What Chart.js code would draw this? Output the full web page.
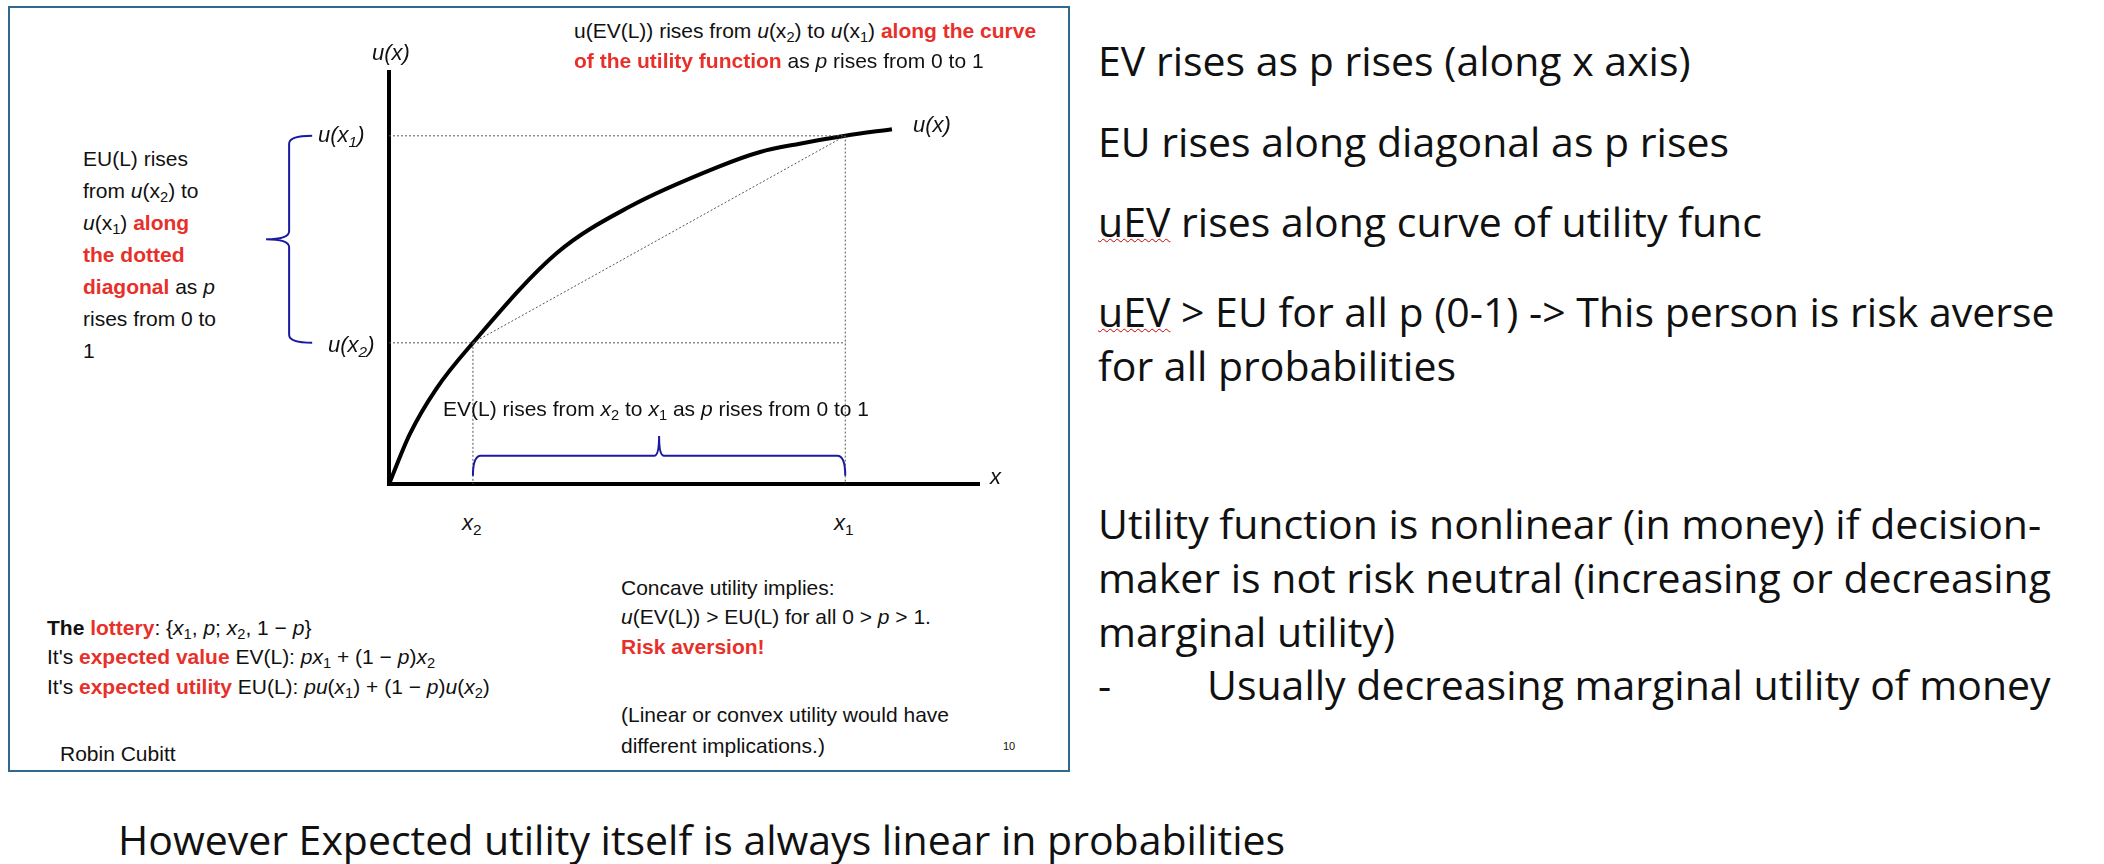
<!DOCTYPE html>
<html><head><meta charset="utf-8">
<script src="https://cdn.jsdelivr.net/npm/chart.js@4"></script>
<style>
body{margin:0;width:2104px;height:864px;background:#fff;position:relative;overflow:hidden;font-family:"Liberation Sans",Arial,sans-serif;}
.t{position:absolute;white-space:nowrap;font-size:21px;line-height:30px;color:#111;}
.r{color:#e8302a;font-weight:bold;}
.R{position:absolute;white-space:nowrap;font-family:"Open Sans",sans-serif;font-size:41px;line-height:54px;color:#111;}
#box{position:absolute;left:8px;top:6px;width:1058px;height:762px;border:2px solid #2e6a8e;}
#cv{position:absolute;left:250px;top:50px;}
sub{font-size:70%;line-height:0;vertical-align:-0.3em}
i{font-style:italic}
</style></head><body>
<div id="box"></div>
<canvas id="cv" width="750" height="454"></canvas>
<div class="t" style="left:574px;top:16px">u(EV(L)) rises from <i>u</i>(x<sub>2</sub>) to <i>u</i>(x<sub>1</sub>) <span class="r">along the curve</span></div>
<div class="t" style="left:574px;top:46px"><span class="r">of the utility function</span> as <i>p</i> rises from 0 to 1</div>
<div class="t" style="left:372px;top:38px;font-size:22px"><i>u(x)</i></div>
<div class="t" style="left:318px;top:120px;font-size:22px"><i>u(x<sub>1</sub>)</i></div>
<div class="t" style="left:328px;top:330px;font-size:22px"><i>u(x<sub>2</sub>)</i></div>
<div class="t" style="left:913px;top:110px;font-size:22px"><i>u(x)</i></div>
<div class="t" style="left:990px;top:462px;font-size:22px"><i>x</i></div>
<div class="t" style="left:83px;top:143px;line-height:32px">EU(L) rises<br>from <i>u</i>(x<sub>2</sub>) to<br><i>u</i>(x<sub>1</sub>) <span class="r">along</span><br><span class="r">the dotted</span><br><span class="r">diagonal</span> as <i>p</i><br>rises from 0 to<br>1</div>
<div class="t" style="left:443px;top:394px">EV(L) rises from <i>x</i><sub>2</sub> to <i>x</i><sub>1</sub> as <i>p</i> rises from 0 to 1</div>
<div class="t" style="left:462px;top:508px;font-size:22px"><i>x</i><sub>2</sub></div>
<div class="t" style="left:834px;top:508px;font-size:22px"><i>x</i><sub>1</sub></div>
<div class="t" style="left:621px;top:573px">Concave utility implies:</div>
<div class="t" style="left:621px;top:602px"><i>u</i>(EV(L)) &gt; EU(L) for all 0 &gt; <i>p</i> &gt; 1.</div>
<div class="t" style="left:621px;top:632px"><span class="r">Risk aversion!</span></div>
<div class="t" style="left:621px;top:700px">(Linear or convex utility would have</div>
<div class="t" style="left:621px;top:731px">different implications.)</div>
<div class="t" style="left:1003px;top:731px;font-size:11px">10</div>
<div class="t" style="left:47px;top:613px"><b>The</b> <span class="r">lottery</span>: {<i>x</i><sub>1</sub>, <i>p</i>; <i>x</i><sub>2</sub>, 1 − <i>p</i>}</div>
<div class="t" style="left:47px;top:642px">It's <span class="r">expected value</span> EV(L): <i>px</i><sub>1</sub> + (1 − <i>p</i>)<i>x</i><sub>2</sub></div>
<div class="t" style="left:47px;top:672px">It's <span class="r">expected utility</span> EU(L): <i>pu</i>(<i>x</i><sub>1</sub>) + (1 − <i>p</i>)<i>u</i>(<i>x</i><sub>2</sub>)</div>
<div class="t" style="left:60px;top:739px">Robin Cubitt</div>
<div class="R" style="left:1098px;top:33px">EV rises as p rises (along x axis)</div>
<div class="R" style="left:1098px;top:114px">EU rises along diagonal as p rises</div>
<div class="R" style="left:1098px;top:194px"><span style="text-decoration:underline wavy #c00;text-decoration-thickness:1px">uEV</span> rises along curve of utility func</div>
<div class="R" style="left:1098px;top:284px"><span style="text-decoration:underline wavy #c00;text-decoration-thickness:1px">uEV</span> &gt; EU for all p (0-1) -&gt; This person is risk averse</div>
<div class="R" style="left:1098px;top:338px">for all probabilities</div>
<div class="R" style="left:1098px;top:496px">Utility function is nonlinear (in money) if decision-</div>
<div class="R" style="left:1098px;top:550px">maker is not risk neutral (increasing or decreasing</div>
<div class="R" style="left:1098px;top:604px">marginal utility)</div>
<div class="R" style="left:1098px;top:657px">-&nbsp;&nbsp;&nbsp;&nbsp;&nbsp;&nbsp;&nbsp;&nbsp;&nbsp;Usually decreasing marginal utility of money</div>
<div class="R" style="left:118px;top:812px">However Expected utility itself is always linear in probabilities</div>
<script>
const curveX=[0,0.35,0.8,1.42,2.84,4.06,5.57,6.28,6.95,7.72,8.51];
const curveU=[0,1.2,2.3,3.41,5.58,6.69,7.66,8.02,8.22,8.41,8.57];
const x2=1.42,u2=3.41,x1=7.72,u1=8.41;
const axisMaxX=10,axisMaxY=10;
const pts=(xs,ys)=>xs.map((x,i)=>({x,y:ys[i]}));
const dot={borderColor:'#555',borderWidth:1,borderDash:[2,2],pointRadius:0,showLine:true,clip:false,fill:false};
const braces={id:'braces',afterDraw(c){const X=c.scales.x,Y=c.scales.y,g=c.ctx;g.save();g.strokeStyle='#1a1aa0';g.lineWidth=2;
 const bx=X.getPixelForValue(-1.69),tx=X.getPixelForValue(-2.08),ya=Y.getPixelForValue(u1),yb=Y.getPixelForValue(u2),ym=(ya+yb)/2,ex=X.getPixelForValue(-1.3);
 g.beginPath();g.moveTo(ex,ya);g.quadraticCurveTo(bx,ya,bx,ya+8);g.lineTo(bx,ym-8);g.quadraticCurveTo(bx,ym,tx,ym);g.quadraticCurveTo(bx,ym,bx,ym+8);g.lineTo(bx,yb-8);g.quadraticCurveTo(bx,yb,ex,yb);g.stroke();
 const by=Y.getPixelForValue(0.68),ty=Y.getPixelForValue(1.16),xa=X.getPixelForValue(x2),xb=X.getPixelForValue(x1),xm=(xa+xb)/2,ey=Y.getPixelForValue(0.2);
 g.beginPath();g.moveTo(xa,ey);g.quadraticCurveTo(xa,by,xa+8,by);g.lineTo(xm-5,by);g.quadraticCurveTo(xm,by,xm,ty);g.quadraticCurveTo(xm,by,xm+5,by);g.lineTo(xb-8,by);g.quadraticCurveTo(xb,by,xb,ey);g.stroke();g.restore();}};
new Chart(document.getElementById('cv'),{type:'scatter',
 data:{datasets:[
  {data:[{x:0,y:u1},{x:x1,y:u1},{x:x1,y:0}],...dot},
  {data:[{x:0,y:u2},{x:x1,y:u2}],...dot},
  {data:[{x:x2,y:u2},{x:x2,y:0}],...dot},
  {data:[{x:x2,y:u2},{x:x1,y:u1}],...dot},
  {data:pts(curveX,curveU),borderColor:'#000',borderWidth:4,pointRadius:0,showLine:true,cubicInterpolationMode:'monotone',clip:false},
  {data:[{x:0,y:axisMaxY},{x:0,y:0},{x:axisMaxX,y:0}],borderColor:'#000',borderWidth:4,pointRadius:0,showLine:true,clip:false}
 ]},
 options:{responsive:false,animation:false,layout:{padding:{left:139,right:20,top:20,bottom:20}},
  plugins:{legend:{display:false},tooltip:{enabled:false}},
  scales:{x:{type:'linear',min:0,max:axisMaxX,display:false},y:{type:'linear',min:0,max:axisMaxY,display:false}}},
 plugins:[braces]});
</script>
</body></html>
